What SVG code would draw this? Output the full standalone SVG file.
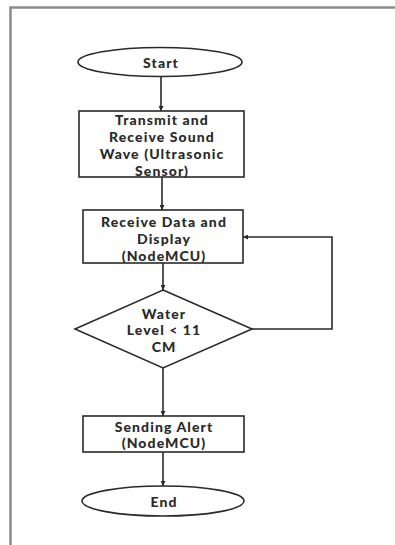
<svg xmlns="http://www.w3.org/2000/svg" width="395" height="545" viewBox="0 0 395 545">
<style>
.s{fill:#fff;stroke:#2a2a2a;stroke-width:1.6}
.c{fill:none;stroke:#2a2a2a;stroke-width:1.6}
text{font-family:Lato,"Open Sans","Liberation Sans",sans-serif;font-weight:900;font-size:14px;letter-spacing:1.1px;fill:#2a2a2a;text-anchor:middle;dominant-baseline:central}
</style>
<defs>
<marker id="a" viewBox="0 0 10 10" refX="10" refY="5" markerWidth="5" markerHeight="5" orient="auto" markerUnits="userSpaceOnUse">
<path d="M0,0 L10,5 L0,10 z" fill="#2a2a2a"/>
</marker>
</defs>
<rect width="395" height="545" fill="#fff"/>
<path d="M10.5,545 V7.5 H395" fill="none" stroke="#8a8a8a" stroke-width="2.5"/>
<g id="connectors">
<line class="c" x1="161" y1="77" x2="161" y2="111" marker-end="url(#a)"/>
<line class="c" x1="162" y1="177" x2="162" y2="210" marker-end="url(#a)"/>
<line class="c" x1="163" y1="263" x2="163" y2="290" marker-end="url(#a)"/>
<polyline class="c" points="252,329 332,329 332,237 243,237" marker-end="url(#a)"/>
<line class="c" x1="163" y1="368" x2="163" y2="416" marker-end="url(#a)"/>
<line class="c" x1="163" y1="452" x2="163" y2="486" marker-end="url(#a)"/>
</g>
<g id="start">
<ellipse class="s" cx="160" cy="62" rx="82" ry="14.5"/>
<text x="161" y="62">Start</text>
</g>
<g id="transmit">
<rect class="s" x="79" y="111" width="165" height="66"/>
<text x="162" y="119">Transmit and</text>
<text x="162" y="136">Receive Sound</text>
<text x="162" y="153">Wave (Ultrasonic</text>
<text x="162" y="170">Sensor)</text>
</g>
<g id="receive">
<rect class="s" x="83" y="210" width="160" height="53"/>
<text x="164" y="221">Receive Data and</text>
<text x="164" y="238">Display</text>
<text x="164" y="255">(NodeMCU)</text>
</g>
<g id="decision">
<polygon class="s" points="163,290 252,329 163,368 75,329"/>
<text x="164" y="313">Water</text>
<text x="164" y="329">Level &lt; 11</text>
<text x="164" y="346">CM</text>
</g>
<g id="alert">
<rect class="s" x="83" y="416" width="161" height="36"/>
<text x="164" y="426">Sending Alert</text>
<text x="164" y="442">(NodeMCU)</text>
</g>
<g id="end">
<ellipse class="s" cx="163" cy="501" rx="81" ry="15"/>
<text x="164" y="501">End</text>
</g>
</svg>
